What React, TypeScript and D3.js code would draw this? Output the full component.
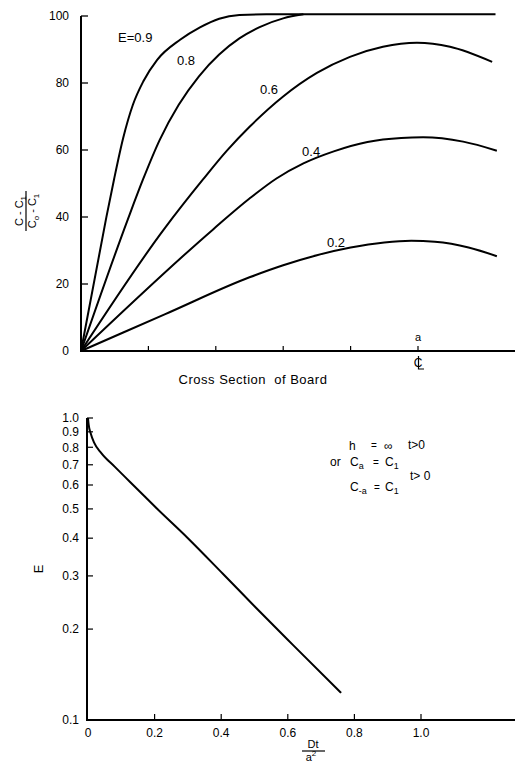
import React from "react";
import * as d3 from "d3";

// ---------- Top chart data: (C - C1)/(C0 - C1) across board cross-section ----------
const topYTicks = [0, 20, 40, 60, 80, 100];
const topXTicks = [0.2, 0.4, 0.6, 0.8, 1.0];

const curveE09: [number, number][] = [
  [0, 0], [0.074, 39.3], [0.098, 51.2], [0.125, 63.5], [0.154, 73.5], [0.185, 80.5], [0.226, 86.9],
  [0.294, 92.9], [0.353, 96.6], [0.41, 99.2], [0.47, 100.3], [0.55, 100.5], [1.23, 100.5],
];
const curveE08: [number, number][] = [
  [0, 0], [0.139, 39.3], [0.184, 51.2], [0.234, 63.1], [0.29, 73.5], [0.35, 82], [0.41, 88.5],
  [0.47, 93.3], [0.53, 96.7], [0.6, 99.3], [0.66, 100.5],
];
const curveE06: [number, number][] = [
  [0, 0], [0.246, 36.3], [0.362, 51.2], [0.433, 59.8], [0.501, 67], [0.599, 75.9], [0.7, 83],
  [0.798, 87.8], [0.896, 90.8], [0.997, 92], [1.095, 90.8], [1.22, 86.3],
];
const curveE04: [number, number][] = [
  [0, 0], [0.392, 36.3], [0.5, 45.5], [0.58, 51.5], [0.66, 56], [0.75, 59.6], [0.85, 62.4],
  [0.95, 63.6], [1.015, 63.8], [1.134, 62.5], [1.234, 59.8],
];
const curveE02: [number, number][] = [
  [0, 0], [0.25, 11], [0.5, 22], [0.6, 25.6], [0.7, 28.6], [0.8, 30.9], [0.9, 32.4], [0.98, 32.9],
  [1.05, 32.6], [1.15, 30.9], [1.234, 28.3],
];
const topSeries = [curveE09, curveE08, curveE06, curveE04, curveE02];
const topLabels = ["E=0.9", "0.8", "0.6", "0.4", "0.2"];
const topLabelAt: [number, number][] = [[0.11, 92.2], [0.285, 85.4], [0.531, 76.7], [0.656, 58.2], [0.73, 30.9]];

// ---------- Bottom chart data: E vs Dt/a^2 ----------
const botYTicks = [0.1, 0.2, 0.3, 0.4, 0.5, 0.6, 0.7, 0.8, 0.9, 1.0];
const botYTickLabels = ["0.1", "0.2", "0.3", "0.4", "0.5", "0.6", "0.7", "0.8", "0.9", "1.0"];
const botXTicks = [0, 0.2, 0.4, 0.6, 0.8, 1.0];
const botXTickLabels = ["0", "0.2", "0.4", "0.6", "0.8", "1.0"];
const curveE: [number, number][] = [
  [0, 1.0], [0.002, 0.95], [0.008, 0.89], [0.018, 0.83], [0.04, 0.765], [0.08, 0.69], [0.156, 0.57],
  [0.2, 0.51], [0.3, 0.4], [0.405, 0.305], [0.5, 0.238], [0.616, 0.177], [0.76, 0.123],
];

const FONT = "'Liberation Sans', Arial, sans-serif";

export default function App() {
  const xT = d3.scaleLinear().domain([0, 1]).range([81, 418]);
  const yT = d3.scaleLinear().domain([0, 100]).range([351, 16]);
  const lineT = d3.line<[number, number]>().x((d) => xT(d[0])).y((d) => yT(d[1])).curve(d3.curveMonotoneX);

  const xB = d3.scaleLinear().domain([0, 1]).range([88, 421]);
  const yB = d3.scaleLog().domain([0.1, 1]).range([720, 418]);
  const lineB = d3.line<[number, number]>().x((d) => xB(d[0])).y((d) => yB(d[1])).curve(d3.curveMonotoneX);

  const topAxisEnd = 515;
  const botAxisEnd = 515;
  const clX = xT(1);
  const clY = yT(0) + 16;

  return (
    <svg width={515} height={770} style={{ position: "absolute", left: 0, top: 0, background: "#fff" }}
      fontFamily={FONT}>
      {/* ===== Top chart ===== */}
      <g>
        <line x1={xT(0)} x2={xT(0)} y1={yT(100)} y2={yT(0) + 1} stroke="#000" strokeWidth={2} />
        <line x1={xT(0) - 1} x2={topAxisEnd} y1={yT(0)} y2={yT(0)} stroke="#000" strokeWidth={2} />
        {topYTicks.map((t) => (
          <g key={"ty" + t}>
            <line x1={xT(0)} x2={xT(0) + 7} y1={yT(t)} y2={yT(t)} stroke="#000" strokeWidth={1.3} />
            <text x={69} y={yT(t)} dy="0.36em" textAnchor="end" fontSize={12}>{t}</text>
          </g>
        ))}
        {topXTicks.map((t) => (
          <line key={"tx" + t} x1={xT(t)} x2={xT(t)} y1={yT(0)} y2={yT(0) - 5} stroke="#000" strokeWidth={1.2} />
        ))}
        <text x={clX} y={yT(0) - 10} textAnchor="middle" fontSize={11}>a</text>
        <text x={clX} y={clY} textAnchor="middle" fontSize={12}>C</text>
        <path d={`M${clX + 0.5},${clY - 11} V${clY + 2} H${clX + 6}`} fill="none" stroke="#000" strokeWidth={1.2} />
        <text x={253} y={384} textAnchor="middle" fontSize={13} letterSpacing={0.5}>
          Cross Section{"\u00a0\u00a0"}of Board
        </text>
        {topSeries.map((s, i) => (
          <path key={"c" + i} d={lineT(s) || ""} fill="none" stroke="#000" strokeWidth={2} />
        ))}
        {topLabels.map((l, i) => (
          <text key={"l" + i} x={xT(topLabelAt[i][0])} y={yT(topLabelAt[i][1])} fontSize={13}>{l}</text>
        ))}
        {/* y label: (C - C1)/(C0 - C1) */}
        <g transform="translate(26,211) rotate(-90)">
          <text x={0} y={-3} textAnchor="middle" fontSize={11}>
            C - C<tspan fontSize={8} dy={3}>1</tspan>
          </text>
          <line x1={-20} x2={20} y1={0} y2={0} stroke="#000" strokeWidth={1.2} />
          <text x={0} y={10} textAnchor="middle" fontSize={11}>
            C<tspan fontSize={8} dy={3}>o</tspan><tspan dy={-3}> - C</tspan><tspan fontSize={8} dy={3}>1</tspan>
          </text>
        </g>
      </g>

      {/* ===== Bottom chart ===== */}
      <g>
        <line x1={87} x2={87} y1={yB(1)} y2={yB(0.1) + 1} stroke="#000" strokeWidth={2} />
        <line x1={86} x2={botAxisEnd} y1={yB(0.1)} y2={yB(0.1)} stroke="#000" strokeWidth={2} />
        {botYTicks.map((t, i) => (
          <g key={"by" + t}>
            {i > 0 && <line x1={87} x2={93} y1={yB(t)} y2={yB(t)} stroke="#000" strokeWidth={1.2} />}
            <text x={79} y={yB(t)} dy="0.36em" textAnchor="end" fontSize={12}>{botYTickLabels[i]}</text>
          </g>
        ))}
        {botXTicks.map((t, i) => (
          <g key={"bx" + t}>
            {i > 0 && <line x1={xB(t)} x2={xB(t)} y1={yB(0.1)} y2={yB(0.1) - 6} stroke="#000" strokeWidth={1.2} />}
            <text x={xB(t)} y={737} textAnchor="middle" fontSize={12}>{botXTickLabels[i]}</text>
          </g>
        ))}
        <path d={lineB(curveE) || ""} fill="none" stroke="#000" strokeWidth={2} />
        <text transform="translate(43,569) rotate(-90)" textAnchor="middle" fontSize={13}>E</text>
        {/* x label Dt / a^2 */}
        <text x={313} y={748} textAnchor="middle" fontSize={11}>Dt</text>
        <line x1={302} x2={325} y1={751} y2={751} stroke="#000" strokeWidth={1.2} />
        <text x={311} y={761} textAnchor="middle" fontSize={11}>
          a<tspan fontSize={8} dy={-5}>2</tspan>
        </text>
        {/* annotation */}
        <g fontSize={12}>
          <text x={349} y={450}>h</text>
          <text x={371} y={449} fontSize={10}>=</text>
          <text x={384} y={450}>∞</text>
          <text x={408} y={449}>t&gt;0</text>
          <text x={330} y={466}>or</text>
          <text x={350} y={466}>C<tspan fontSize={9} dy={3}>a</tspan></text>
          <text x={373} y={466} fontSize={10}>=</text>
          <text x={385} y={466}>C<tspan fontSize={9} dy={3}>1</tspan></text>
          <text x={410} y={480}>t&gt; 0</text>
          <text x={350} y={491}>C<tspan fontSize={9} dy={3}>-a</tspan></text>
          <text x={374} y={491} fontSize={10}>=</text>
          <text x={385} y={491}>C<tspan fontSize={9} dy={3}>1</tspan></text>
        </g>
      </g>
    </svg>
  );
}
